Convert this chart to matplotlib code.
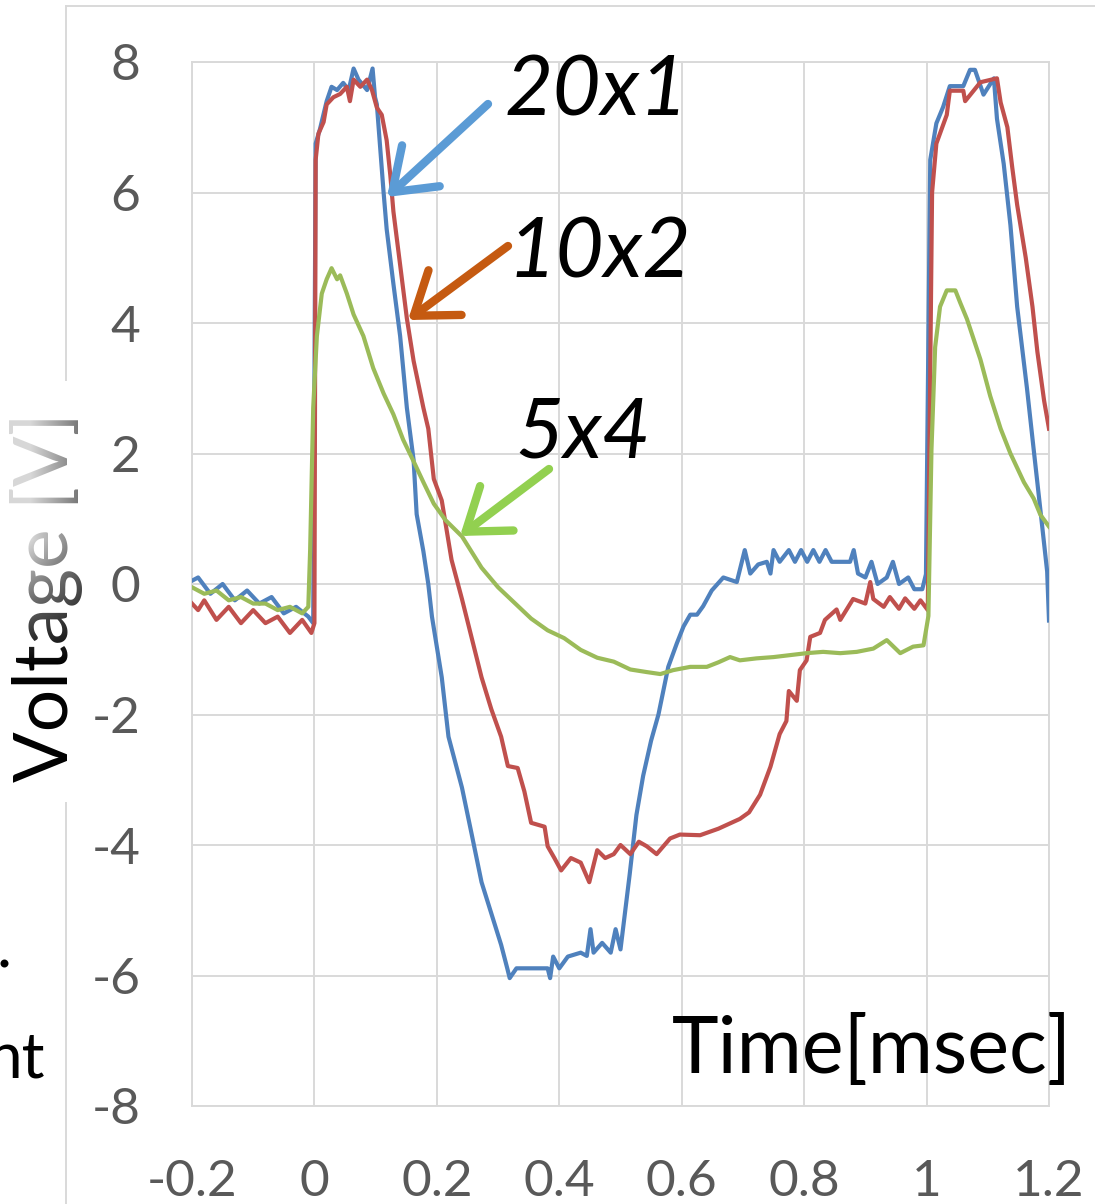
import numpy as np
import matplotlib
matplotlib.use('Agg')
import matplotlib.pyplot as plt
from matplotlib.patches import ArrowStyle
from matplotlib.lines import Line2D

W, H = 1095, 1204

# ---- data (time in msec, voltage in V) ----
t20 = [-0.2, -0.19, -0.17, -0.15, -0.13, -0.11, -0.09, -0.07, -0.05, -0.03, -0.01, -0.002,
       0.002, 0.009, 0.02, 0.028, 0.037, 0.047, 0.056, 0.064, 0.072, 0.086, 0.095, 0.099,
       0.102, 0.113, 0.118, 0.129, 0.14, 0.151, 0.162, 0.167, 0.178, 0.186, 0.192, 0.208,
       0.219, 0.241, 0.257, 0.273, 0.289, 0.305, 0.315, 0.319, 0.33, 0.35, 0.37, 0.381,
       0.385, 0.39, 0.4, 0.414, 0.435, 0.445, 0.451, 0.456, 0.47, 0.484, 0.492, 0.5,
       0.515, 0.526, 0.537, 0.55, 0.562, 0.578, 0.592, 0.603, 0.614, 0.625, 0.635, 0.649,
       0.668, 0.69, 0.703, 0.712, 0.725, 0.739, 0.745, 0.75, 0.76, 0.775, 0.785, 0.795,
       0.805, 0.815, 0.825, 0.835, 0.845, 0.86, 0.875, 0.881, 0.888, 0.9, 0.91, 0.92,
       0.935, 0.945, 0.955, 0.97, 0.98, 0.993, 0.999, 1.006, 1.016, 1.027, 1.038, 1.06,
       1.071, 1.079, 1.093, 1.11, 1.115, 1.126, 1.137, 1.148, 1.164, 1.175, 1.186, 1.197, 1.2]
v20 = [0.05, 0.1, -0.15, 0.0, -0.25, -0.1, -0.3, -0.2, -0.45, -0.35, -0.5, -0.6,
       6.75, 6.97, 7.4, 7.62, 7.57, 7.68, 7.57, 7.9, 7.73, 7.57, 7.9, 7.46,
       7.35, 6.0, 5.44, 4.6, 3.8, 2.7, 1.9, 1.07, 0.5, 0.0, -0.5, -1.43,
       -2.34, -3.12, -3.84, -4.57, -5.05, -5.53, -5.89, -6.04, -5.89, -5.89, -5.89, -5.89,
       -6.04, -5.71, -5.89, -5.71, -5.65, -5.7, -5.29, -5.65, -5.5, -5.65, -5.29, -5.6,
       -4.45, -3.54, -2.94, -2.4, -2.0, -1.27, -0.91, -0.65, -0.47, -0.47, -0.34, -0.1,
       0.1, 0.03, 0.52, 0.16, 0.3, 0.34, 0.16, 0.52, 0.34, 0.52, 0.34, 0.52,
       0.34, 0.52, 0.34, 0.52, 0.34, 0.34, 0.34, 0.52, 0.16, 0.1, 0.34, 0.0,
       0.1, 0.34, 0.0, 0.1, -0.08, -0.08, 0.15, 6.5, 7.06, 7.31, 7.63, 7.63,
       7.88, 7.88, 7.5, 7.75, 7.13, 6.44, 5.5, 4.25, 3.0, 2.06, 1.13, 0.19, -0.56]

t10 = [-0.2, -0.19, -0.18, -0.16, -0.14, -0.12, -0.1, -0.08, -0.06, -0.04, -0.02, -0.005, 0.0,
       0.002, 0.0065, 0.015, 0.02, 0.031, 0.042, 0.053, 0.058, 0.064, 0.075, 0.086, 0.094,
       0.102, 0.11, 0.118, 0.124, 0.129, 0.14, 0.151, 0.162, 0.178, 0.186, 0.195, 0.208,
       0.224, 0.241, 0.257, 0.273, 0.289, 0.305, 0.316, 0.332, 0.343, 0.354, 0.376, 0.381,
       0.392, 0.403, 0.419, 0.435, 0.449, 0.462, 0.475, 0.489, 0.5, 0.516, 0.53, 0.543,
       0.559, 0.581, 0.597, 0.63, 0.66, 0.695, 0.71, 0.728, 0.745, 0.76, 0.771, 0.775,
       0.788, 0.793, 0.804, 0.81, 0.826, 0.834, 0.853, 0.859, 0.88, 0.9, 0.908, 0.913,
       0.93, 0.94, 0.955, 0.965, 0.98, 0.99, 1.002, 1.009, 1.016, 1.033, 1.038, 1.06,
       1.063, 1.088, 1.115, 1.121, 1.132, 1.14, 1.148, 1.162, 1.173, 1.181, 1.192, 1.2]
v10 = [-0.3, -0.4, -0.25, -0.55, -0.35, -0.6, -0.4, -0.6, -0.5, -0.75, -0.55, -0.75, -0.6,
       6.5, 6.9, 7.08, 7.35, 7.46, 7.51, 7.62, 7.4, 7.73, 7.62, 7.73, 7.57,
       7.3, 7.19, 6.8, 6.26, 5.71, 4.89, 4.07, 3.42, 2.7, 2.38, 1.61, 1.28,
       0.37, -0.23, -0.83, -1.43, -1.92, -2.34, -2.79, -2.82, -3.18, -3.66, -3.72, -4.02,
       -4.2, -4.39, -4.2, -4.27, -4.57, -4.08, -4.2, -4.14, -4.0, -4.14, -3.95, -4.02,
       -4.14, -3.9, -3.84, -3.85, -3.75, -3.6, -3.5, -3.23, -2.8, -2.3, -2.1, -1.64,
       -1.79, -1.32, -1.17, -0.81, -0.75, -0.55, -0.39, -0.55, -0.23, -0.3, 0.03, -0.23,
       -0.35, -0.2, -0.38, -0.22, -0.38, -0.25, -0.4, 6.0, 6.75, 7.19, 7.56, 7.56,
       7.4, 7.69, 7.75, 7.38, 7.0, 6.38, 5.81, 5.0, 4.25, 3.56, 2.81, 2.38]

t5 = [-0.2, -0.18, -0.16, -0.14, -0.12, -0.1, -0.08, -0.06, -0.04, -0.02, -0.01,
      -0.007, -0.002, 0.004, 0.012, 0.02, 0.028, 0.037, 0.042, 0.053, 0.064, 0.08, 0.096,
      0.113, 0.129, 0.145, 0.162, 0.178, 0.195, 0.214, 0.241, 0.273, 0.3, 0.327, 0.354,
      0.381, 0.408, 0.435, 0.462, 0.489, 0.516, 0.543, 0.565, 0.586, 0.614, 0.641, 0.66,
      0.679, 0.695, 0.722, 0.75, 0.777, 0.804, 0.831, 0.859, 0.886, 0.913, 0.935, 0.957,
      0.978, 0.995, 1.003, 1.008, 1.014, 1.022, 1.033, 1.047, 1.055, 1.066, 1.088, 1.104,
      1.121, 1.137, 1.159, 1.175, 1.186, 1.2]
v5 = [-0.05, -0.15, -0.1, -0.25, -0.2, -0.3, -0.3, -0.4, -0.35, -0.45, -0.35,
      0.52, 2.7, 3.8, 4.45, 4.67, 4.84, 4.67, 4.73, 4.45, 4.13, 3.8, 3.31,
      2.92, 2.6, 2.21, 1.88, 1.56, 1.23, 0.98, 0.73, 0.25, -0.05, -0.29, -0.53,
      -0.71, -0.83, -1.01, -1.13, -1.19, -1.31, -1.35, -1.38, -1.32, -1.27, -1.27, -1.2,
      -1.12, -1.17, -1.14, -1.12, -1.09, -1.06, -1.04, -1.06, -1.04, -0.99, -0.86, -1.06,
      -0.96, -0.94, -0.49, 2.06, 3.63, 4.25, 4.5, 4.5, 4.31, 4.06, 3.44, 2.88,
      2.38, 2.0, 1.56, 1.31, 1.06, 0.88]

xticks = [-0.2, 0, 0.2, 0.4, 0.6, 0.8, 1.0, 1.2]
xticklabels = ['-0.2', '0', '0.2', '0.4', '0.6', '0.8', '1', '1.2']
yticks = [-8, -6, -4, -2, 0, 2, 4, 6, 8]
yticklabels = ['-8', '-6', '-4', '-2', '0', '2', '4', '6', '8']

plt.rcParams['font.family'] = ['Lato', 'DejaVu Sans']

fig = plt.figure(figsize=(W / 100, H / 100), dpi=100)
ax = fig.add_axes([192 / W, 1 - 1106 / H, (1049 - 192) / W, (1106 - 62) / H])

ax.plot(t20, v20, color='#4F81BD', lw=3.0, zorder=3)
ax.plot(t10, v10, color='#C0504D', lw=3.0, zorder=3)
ax.plot(t5, v5, color='#9BBB59', lw=3.0, zorder=3)

ax.set_xlim(-0.2, 1.2)
ax.set_ylim(-8, 8)
ax.set_xticks(xticks)
ax.set_xticklabels(xticklabels)
ax.set_yticks(yticks)
ax.set_yticklabels(yticklabels)
ax.tick_params(length=0, labelsize=37, colors='#595959')
ax.tick_params(axis='y', pad=37)
ax.tick_params(axis='x', pad=38)
ax.grid(True, color='#D9D9D9', lw=1.4, zorder=0)
for s in ax.spines.values():
    s.set_color('#D9D9D9')
    s.set_linewidth(1.4)


def fp(x, y):
    # figure-pixel coords measured from the top-left
    return (x, H - y)


# series labels + arrows
ax.annotate('20x1', xy=fp(505, 115), xycoords='figure pixels', fontsize=60,
            style='italic', color='black', va='baseline', ha='left')
ax.annotate('10x2', xy=fp(508, 278), xycoords='figure pixels', fontsize=60,
            style='italic', color='black', va='baseline', ha='left')
ax.annotate('5x4', xy=fp(515, 458), xycoords='figure pixels', fontsize=60,
            style='italic', color='black', va='baseline', ha='left')

arrows = [((387, 197), (488, 104), '#5B9BD5'),
          ((408, 320), (508, 246), '#C55A11'),
          ((460, 536), (549, 469), '#92D050')]
for tip, tail, col in arrows:
    ax.annotate('', xy=fp(*tip), xytext=fp(*tail),
                xycoords='figure pixels', textcoords='figure pixels',
                arrowprops=dict(arrowstyle=ArrowStyle('->', head_length=28, head_width=20),
                                color=col, lw=6, mutation_scale=1,
                                shrinkA=0, shrinkB=0, capstyle='round'))

fig.text(672 / W, 1 - 1073 / H, 'Time[msec]', fontsize=57, ha='left', va='baseline')

# y label, partly washed out at its top end as in the source
fig.text(47 / W, 1 - 597 / H, 'Voltage [V]', fontsize=54, rotation=90,
         ha='center', va='center')

ov = fig.add_axes([0, 1 - 690 / H, 95 / W, (690 - 395) / H])
ov.axis('off')
ov.set_zorder(10)
rows, cols = 295, 95
py = np.linspace(395, 690, rows)[:, None]
px = np.linspace(0, 95, cols)[None, :]
a_y = np.clip((665 - py) / 125.0, 0, 1) * 0.85
a_x = np.clip(1.0 - (px - 30) / 110.0, 0.55, 1.0)
grad = np.ones((rows, cols, 4))
grad[..., 3] = a_y * a_x
ov.imshow(grad, extent=[0, 1, 0, 1], aspect='auto', origin='upper')
ov.set_xlim(0, 1)
ov.set_ylim(0, 1)

# outer chart-area frame (partly cut off)
frame = '#D9D9D9'
fig.add_artist(Line2D([66 / W, 66 / W], [1 - 6 / H, 1 - 380 / H], color=frame, lw=1.4))
fig.add_artist(Line2D([66 / W, 66 / W], [1 - 803 / H, 0], color=frame, lw=1.4))
fig.add_artist(Line2D([66 / W, 1.0], [1 - 6 / H, 1 - 6 / H], color=frame, lw=1.4))

# cut-off text of the neighbouring label
fig.text(45 / W, 1 - 1077 / H, 'nt', fontsize=46, ha='right', va='baseline')
fig.text(11 / W, 1 - 967 / H, '.', fontsize=46, ha='right', va='baseline')

fig.savefig('out.png', dpi=100)
